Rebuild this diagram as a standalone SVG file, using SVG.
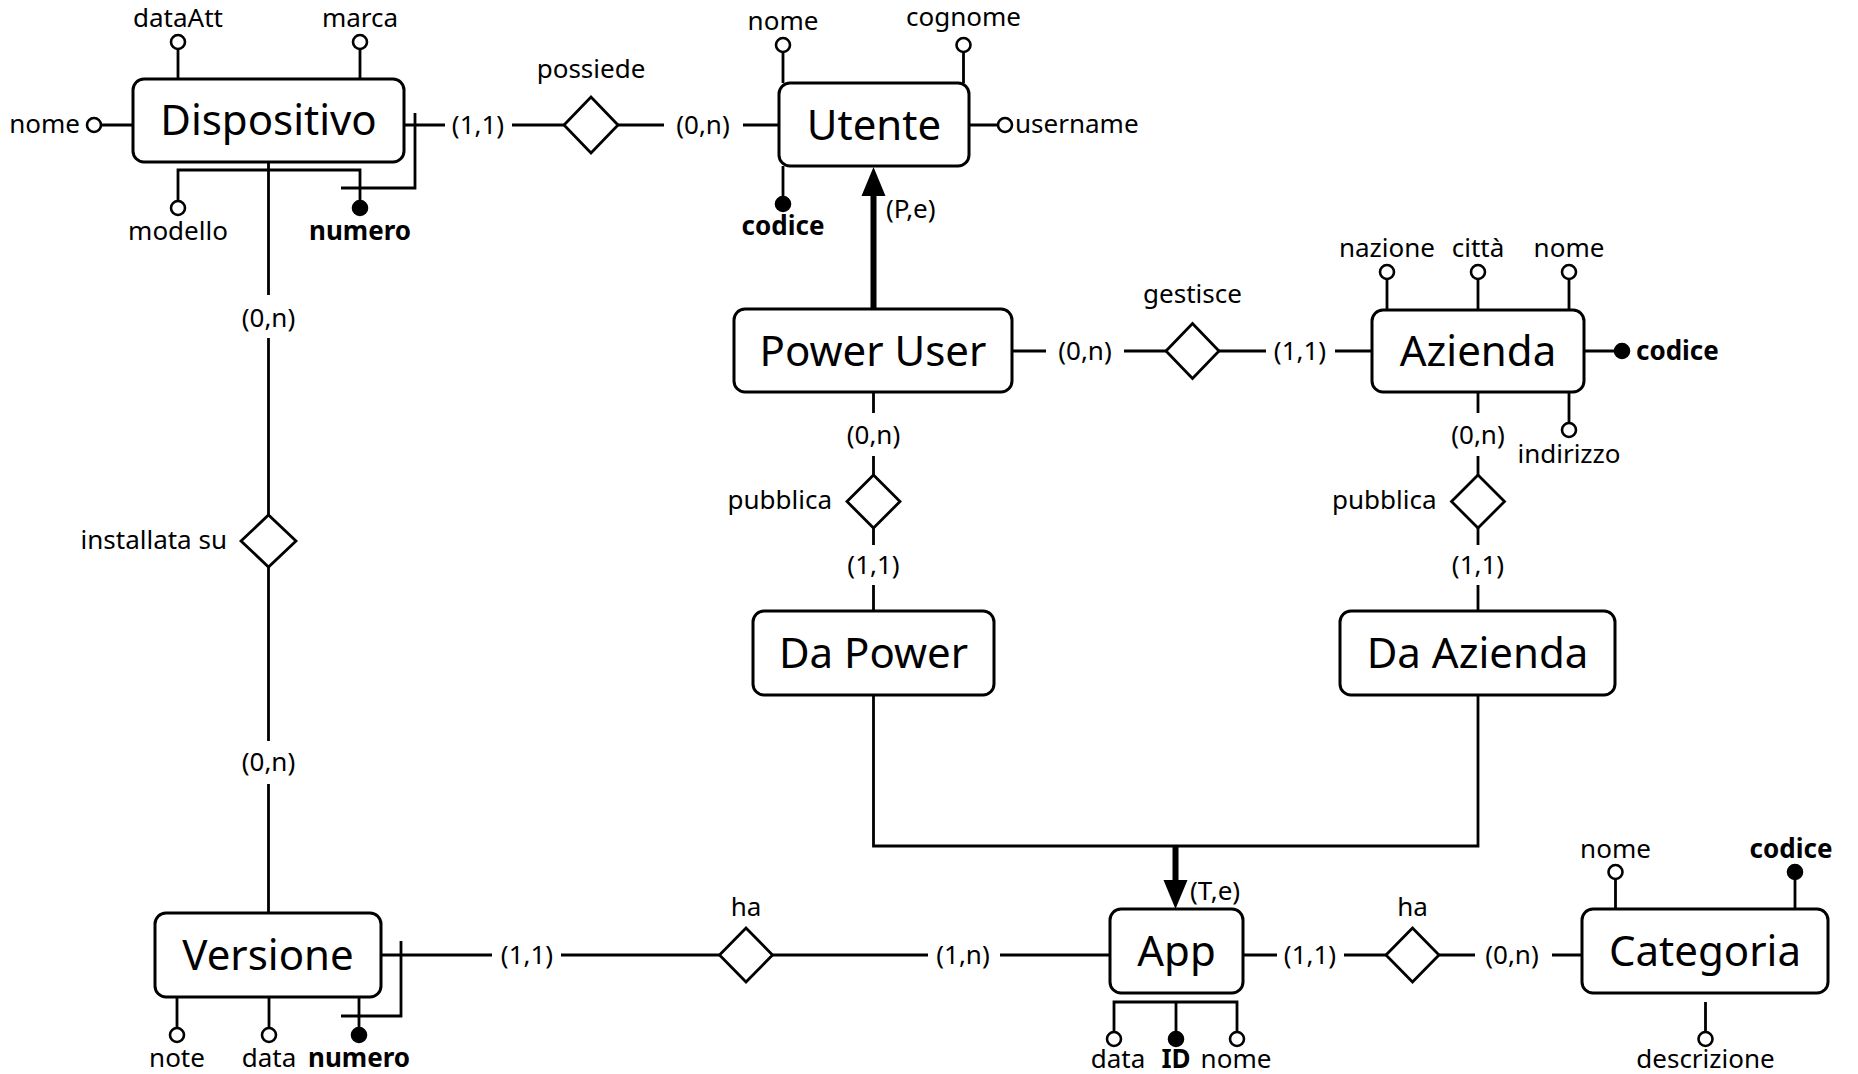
<svg xmlns="http://www.w3.org/2000/svg" width="1858" height="1074" viewBox="0 0 1858 1074">
<style>
  text { font-family: "Noto Sans", "Open Sans", "DejaVu Sans", sans-serif; fill: #000; }
  .box { fill: #fff; stroke: #000; stroke-width: 3; }
  .rel { fill: #fff; stroke: #000; stroke-width: 2.8; stroke-linejoin: miter; }
  .name { font-size: 42px; text-anchor: middle; }
  .t { font-size: 26px; }
  .c { text-anchor: middle; }
  .e { text-anchor: end; }
  .b { font-weight: bold; }
  .wire { fill: none; stroke: #000; stroke-width: 2.8; }
  .isa { fill: none; stroke: #000; stroke-width: 6; }
  .head { fill: #000; stroke: none; }
  .open { fill: #fff; stroke: #000; stroke-width: 2.6; }
  .key { fill: #000; stroke: #000; stroke-width: 2.6; }
</style>
<rect x="0" y="0" width="1858" height="1074" fill="#fff"/>

<!-- connectors and cardinalities -->
<g id="connectors">
  <path class="wire" d="M404 125H445 M512 125H564 M618 125H664 M743 125H779"/>
  <text class="t c" x="478" y="133.5">(1,1)</text>
  <text class="t c" x="703" y="133.5">(0,n)</text>

  <path class="isa" d="M873.5 309V194"/>
  <polygon class="head" points="873.5,167 861.5,196 885.5,196"/>
  <text class="t" x="886" y="218">(P,e)</text>

  <path class="wire" d="M1012 351H1046 M1124 351H1166 M1219 351H1266 M1335 351H1372"/>
  <text class="t c" x="1085" y="359.5">(0,n)</text>
  <text class="t c" x="1300" y="359.5">(1,1)</text>

  <path class="wire" d="M873.5 392V413 M873.5 456V475 M873.5 528V545 M873.5 585V611"/>
  <text class="t c" x="873.5" y="443.5">(0,n)</text>
  <text class="t c" x="873.5" y="573.5">(1,1)</text>

  <path class="wire" d="M1478 392V413 M1478 456V475 M1478 528V545 M1478 585V611"/>
  <text class="t c" x="1478" y="443.5">(0,n)</text>
  <text class="t c" x="1478" y="573.5">(1,1)</text>

  <path class="wire" d="M873.5 695V846H1478V695"/>
  <path class="isa" d="M1175.5 846V882"/>
  <polygon class="head" points="1175.5,909 1163.5,880 1187.5,880"/>
  <text class="t" x="1190" y="900">(T,e)</text>

  <path class="wire" d="M268.5 162V295 M268.5 338V515 M268.5 567V741 M268.5 784V913"/>
  <text class="t c" x="268.5" y="326.5">(0,n)</text>
  <text class="t c" x="268.5" y="770.5">(0,n)</text>

  <path class="wire" d="M381 955H492 M561 955H719.5 M772.5 955H928 M1000 955H1110"/>
  <text class="t c" x="527" y="963.5">(1,1)</text>
  <text class="t c" x="963" y="963.5">(1,n)</text>

  <path class="wire" d="M1243 955H1277 M1344 955H1386 M1439 955H1475 M1552 955H1582"/>
  <text class="t c" x="1310" y="963.5">(1,1)</text>
  <text class="t c" x="1512" y="963.5">(0,n)</text>
</g>

<!-- entities -->
<g id="dispositivo">
  <rect class="box" x="133" y="79" width="271" height="83" rx="11"/>
  <text class="name" x="268.5" y="135">Dispositivo</text>
  <path class="wire" d="M178 79V49 M360 79V49 M133 125H101 M178 201V170H360V201 M341 188H415V113"/>
  <circle class="open" cx="178" cy="42" r="7"/>
  <circle class="open" cx="360" cy="42" r="7"/>
  <circle class="open" cx="94" cy="125" r="7"/>
  <circle class="open" cx="178" cy="208" r="7"/>
  <circle class="key" cx="360" cy="208" r="7"/>
  <text class="t c" x="178" y="27">dataAtt</text>
  <text class="t c" x="360" y="27">marca</text>
  <text class="t e" x="80" y="133">nome</text>
  <text class="t c" x="178" y="240">modello</text>
  <text class="t c b" x="360" y="240">numero</text>
</g>

<g id="utente">
  <rect class="box" x="779" y="83" width="190" height="83" rx="11"/>
  <text class="name" x="874" y="139.5">Utente</text>
  <path class="wire" d="M783 83V52 M963.5 83V52 M969 125H998 M783 166V197"/>
  <circle class="open" cx="783" cy="45" r="7"/>
  <circle class="open" cx="963.5" cy="45" r="7"/>
  <circle class="open" cx="1005" cy="125" r="7"/>
  <circle class="key" cx="783" cy="204" r="7"/>
  <text class="t c" x="783" y="30">nome</text>
  <text class="t c" x="963.5" y="26">cognome</text>
  <text class="t" x="1015" y="133">username</text>
  <text class="t c b" x="783" y="235">codice</text>
</g>

<g id="power-user">
  <rect class="box" x="734" y="309" width="278" height="83" rx="11"/>
  <text class="name" x="873" y="365.5">Power User</text>
</g>

<g id="azienda">
  <rect class="box" x="1372" y="310" width="212" height="82" rx="11"/>
  <text class="name" x="1478" y="366">Azienda</text>
  <path class="wire" d="M1387 310V279 M1478 310V279 M1569 310V279 M1584 351H1615 M1569 392V423"/>
  <circle class="open" cx="1387" cy="272" r="7"/>
  <circle class="open" cx="1478" cy="272" r="7"/>
  <circle class="open" cx="1569" cy="272" r="7"/>
  <circle class="open" cx="1569" cy="430" r="7"/>
  <circle class="key" cx="1622" cy="351" r="7"/>
  <text class="t c" x="1387" y="257">nazione</text>
  <text class="t c" x="1478" y="257">città</text>
  <text class="t c" x="1569" y="257">nome</text>
  <text class="t b" x="1636" y="360">codice</text>
  <text class="t c" x="1569" y="463">indirizzo</text>
</g>

<g id="da-power">
  <rect class="box" x="753" y="611" width="241" height="84" rx="11"/>
  <text class="name" x="873.5" y="668">Da Power</text>
</g>

<g id="da-azienda">
  <rect class="box" x="1340" y="611" width="275" height="84" rx="11"/>
  <text class="name" x="1477.5" y="668">Da Azienda</text>
</g>

<g id="versione">
  <rect class="box" x="155" y="913" width="226" height="84" rx="11"/>
  <text class="name" x="268" y="970">Versione</text>
  <path class="wire" d="M177 997V1028 M269 997V1028 M359 997V1028 M341 1016H401V941"/>
  <circle class="open" cx="177" cy="1035" r="7"/>
  <circle class="open" cx="269" cy="1035" r="7"/>
  <circle class="key" cx="359" cy="1035" r="7"/>
  <text class="t c" x="177" y="1067">note</text>
  <text class="t c" x="269" y="1067">data</text>
  <text class="t c b" x="359" y="1067">numero</text>
</g>

<g id="app">
  <rect class="box" x="1110" y="909" width="133" height="84" rx="11"/>
  <text class="name" x="1176.5" y="966">App</text>
  <path class="wire" d="M1114 1032V1002H1237V1032 M1176 1002V1032"/>
  <circle class="open" cx="1114" cy="1039" r="7"/>
  <circle class="key" cx="1176" cy="1039" r="7"/>
  <circle class="open" cx="1237" cy="1039" r="7"/>
  <text class="t c" x="1118" y="1068">data</text>
  <text class="t c b" x="1176" y="1068">ID</text>
  <text class="t c" x="1236" y="1068">nome</text>
</g>

<g id="categoria">
  <rect class="box" x="1582" y="909" width="246" height="84" rx="11"/>
  <text class="name" x="1705" y="966">Categoria</text>
  <path class="wire" d="M1615.5 909V879 M1795 909V879 M1705.5 1002V1032"/>
  <circle class="open" cx="1615.5" cy="872" r="7"/>
  <circle class="key" cx="1795" cy="872" r="7"/>
  <circle class="open" cx="1705.5" cy="1039" r="7"/>
  <text class="t c" x="1615.5" y="858">nome</text>
  <text class="t c b" x="1791" y="858">codice</text>
  <text class="t c" x="1705.5" y="1068">descrizione</text>
</g>

<!-- relationships -->
<g id="possiede">
  <polygon class="rel" points="564,125 591,97 618,125 591,153"/>
  <text class="t c" x="591" y="78">possiede</text>
</g>
<g id="gestisce">
  <polygon class="rel" points="1166,351 1192.5,323.5 1219,351 1192.5,378.5"/>
  <text class="t c" x="1192.5" y="303">gestisce</text>
</g>
<g id="pubblica-power">
  <polygon class="rel" points="847,501.5 873.5,475 900,501.5 873.5,528"/>
  <text class="t e" x="832" y="509">pubblica</text>
</g>
<g id="pubblica-azienda">
  <polygon class="rel" points="1451.5,501.5 1478,475 1504.5,501.5 1478,528"/>
  <text class="t e" x="1436.5" y="509">pubblica</text>
</g>
<g id="installata-su">
  <polygon class="rel" points="241,541 268.5,515 296,541 268.5,567"/>
  <text class="t e" x="227" y="549">installata su</text>
</g>
<g id="ha-versione">
  <polygon class="rel" points="719.5,955 746,928 772.5,955 746,982"/>
  <text class="t c" x="746" y="916">ha</text>
</g>
<g id="ha-categoria">
  <polygon class="rel" points="1386,955 1412.5,928 1439,955 1412.5,982"/>
  <text class="t c" x="1412.5" y="916">ha</text>
</g>
</svg>
